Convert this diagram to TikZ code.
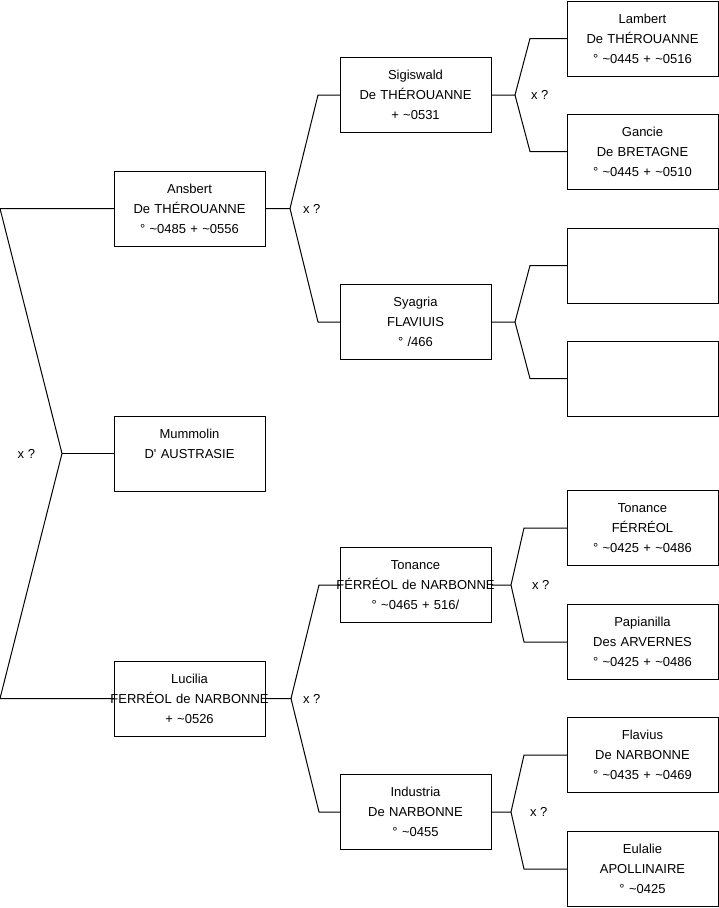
\documentclass[tikz,border=0pt]{standalone}
\usepackage{fontspec}
\setmainfont{Liberation Sans}
\usepackage{tikz}
\usetikzlibrary{positioning, calc}

\newcommand{\aprx}{\textasciitilde}
\newcommand{\wideline}[1]{\makebox[151pt][c]{#1}}

\begin{document}
\begin{tikzpicture}[
    x=1pt, y=1pt,
    person/.style={rectangle, draw=black, line width=1pt, align=center,
                   text width=151pt, minimum width=151pt, minimum height=75pt,
                   inner sep=0pt, outer sep=0pt, font=\fontsize{13}{20}\selectfont},
    link/.style={draw=black, line width=1pt, line join=round},
    lbl/.style={inner sep=0pt, outer sep=0pt, font=\fontsize{13}{16}\selectfont}
]
\useasboundingbox (0,0) rectangle (719,-908);

% generation 1
\node[person] (mumm) at (189.5,-453.5) {Mummolin\\D\textquotesingle{} AUSTRASIE\\\mbox{}};
\node[person, above=170pt of mumm] (ansbert) {Ansbert\\De THÉROUANNE\\° \aprx0485 + \aprx0556};
\node[person, below=170pt of mumm] (lucilia) {Lucilia\\\wideline{FERRÉOL de NARBONNE}\\+ \aprx0526};

% generation 2
\node[person, right=75pt of ansbert, yshift=113.5pt]  (sigis) {Sigiswald\\De THÉROUANNE\\+ \aprx0531};
\node[person, right=75pt of ansbert, yshift=-113.5pt] (syag) {Syagria\\FLAVIUIS\\° /466};
\node[person, right=75pt of lucilia, yshift=113.5pt]  (tonance) {Tonance\\\wideline{FÉRRÉOL de NARBONNE}\\° \aprx0465 + 516/};
\node[person, right=75pt of lucilia, yshift=-113.5pt] (indus) {Industria\\De NARBONNE\\° \aprx0455};

% generation 3
\node[person, right=76pt of sigis, yshift=56.5pt]    (lambert) {Lambert\\De THÉROUANNE\\° \aprx0445 + \aprx0516};
\node[person, right=76pt of sigis, yshift=-56.5pt]   (gancie) {Gancie\\De BRETAGNE\\° \aprx0445 + \aprx0510};
\node[person, right=76pt of syag, yshift=56.5pt]     (blank1) {};
\node[person, right=76pt of syag, yshift=-56.5pt]    (blank2) {};
\node[person, right=76pt of tonance, yshift=57pt]    (tonance2) {Tonance\\FÉRRÉOL\\° \aprx0425 + \aprx0486};
\node[person, right=76pt of tonance, yshift=-57pt]   (papian) {Papianilla\\Des ARVERNES\\° \aprx0425 + \aprx0486};
\node[person, right=76pt of indus, yshift=57pt]      (flavius) {Flavius\\De NARBONNE\\° \aprx0435 + \aprx0469};
\node[person, right=76pt of indus, yshift=-57pt]     (eulalie) {Eulalie\\APOLLINAIRE\\° \aprx0425};

% left fork
\coordinate (edge) at (0,0);
\coordinate (froot) at ($(mumm.west)+(-52,0)$);
\draw[link] (ansbert.west) -- (ansbert.west -| edge) -- (froot) -- (lucilia.west -| edge) -- (lucilia.west);
\draw[link] (froot) -- (mumm.west);

% forks to the right
\foreach \pa/\up/\dn/\ax/\ex in {ansbert/sigis/syag/25/22, lucilia/tonance/indus/26/21,
    sigis/lambert/gancie/24/37, syag/blank1/blank2/24/37,
    tonance/tonance2/papian/20/43, indus/flavius/eulalie/20/43}{
  \coordinate (f\pa) at ($(\pa.east)+(\ax,0)$);
  \draw[link] (\pa.east) -- (f\pa) -- ($(\up.west)+(-\ex,0)$) -- (\up.west);
  \draw[link] (f\pa) -- ($(\dn.west)+(-\ex,0)$) -- (\dn.west);
}

% marriage labels
\node[lbl, left=27pt of froot]     (xroot) {x ?};
\node[lbl, right=13pt of fansbert] (xansbert) {x ?};
\node[lbl, right=16pt of fsigis]   (xsigis) {x ?};
\node[lbl, right=12pt of flucilia] (xlucilia) {x ?};
\node[lbl, right=21pt of ftonance] (xtonance) {x ?};
\node[lbl, right=19pt of findus]   (xindus) {x ?};
\end{tikzpicture}
\end{document}
